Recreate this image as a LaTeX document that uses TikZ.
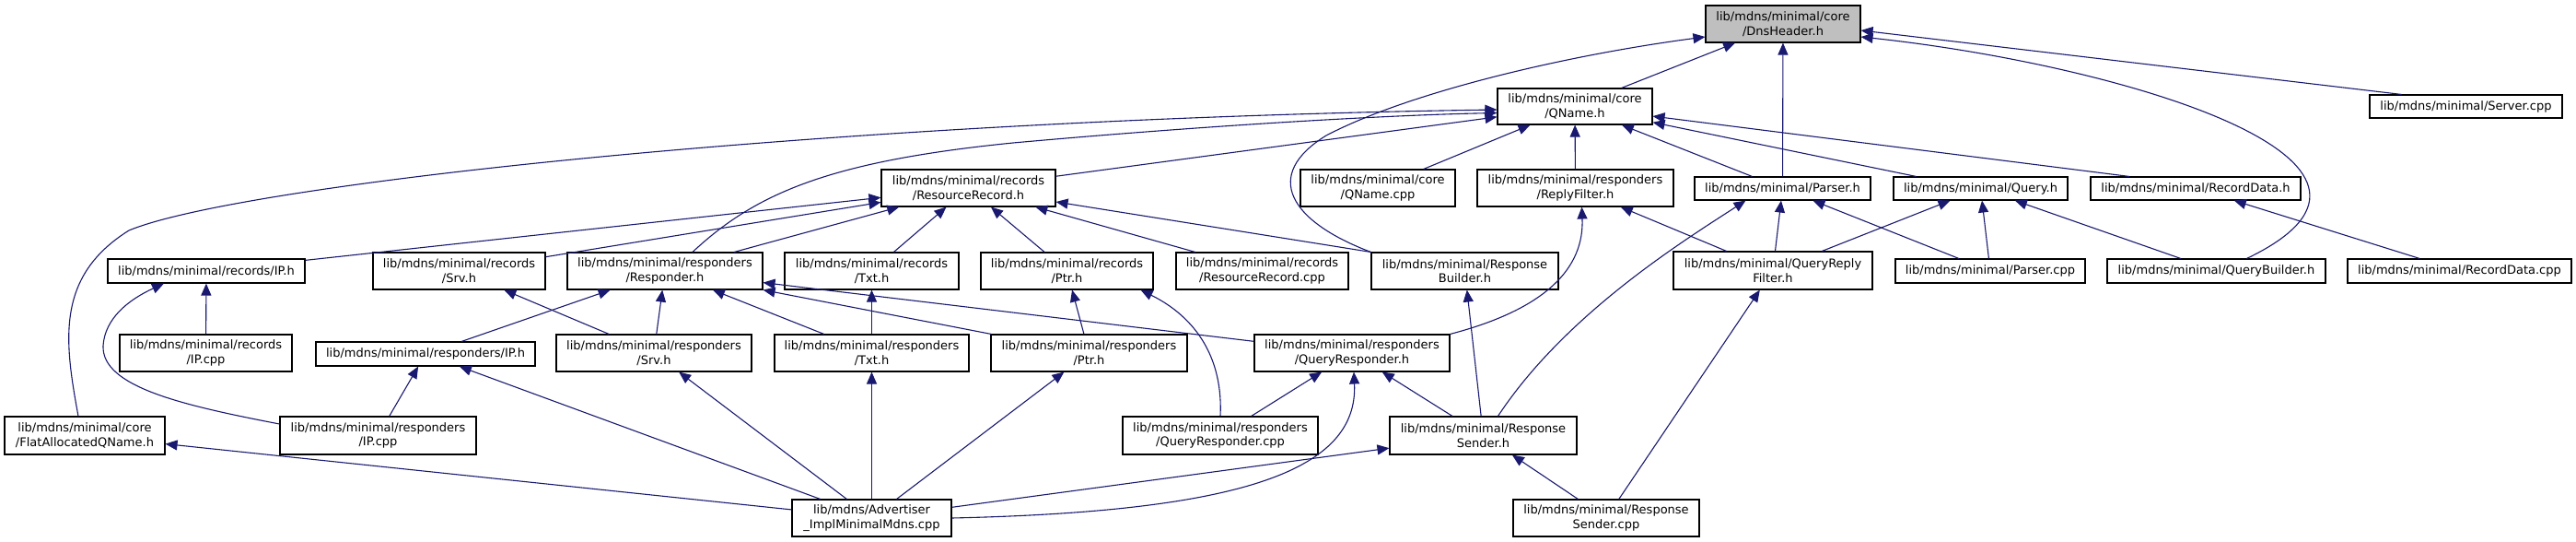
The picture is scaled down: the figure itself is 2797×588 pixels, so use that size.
\documentclass[tikz,border=0pt]{standalone}
\usepackage{fontspec}
\newfontfamily\dejavu{DejaVu Sans}
\usetikzlibrary{arrows.meta}
\definecolor{edgeblue}{HTML}{191970}
\definecolor{rootgray}{HTML}{BFBFBF}
\tikzset{
  box/.style={draw=black, line width=1.1pt, fill=white, inner sep=0pt, align=center,
    font=\dejavu\fontsize{13}{15.5}\selectfont},
  edge/.style={draw=edgeblue, line width=1.1pt, -{Triangle[length=13pt,width=11pt]}}
}
\newcommand{\bx}[6]{\node[box, minimum width=#4pt, minimum height=#5pt] (#1) at (#2,#3) {#6};}
\begin{document}
\begin{tikzpicture}[x=1pt,y=-1pt]
\useasboundingbox (0,0) rectangle (2797,588);
% nodes
\node[box, fill=rootgray, minimum width=168pt, minimum height=40pt] (dns) at (1936,26) {lib/mdns/minimal/core\\/DnsHeader.h};
\bx{qname}{1710}{115.5}{168}{39}{lib/mdns/minimal/core\\/QName.h}
\bx{server}{2677.5}{115.5}{209}{25}{lib/mdns/minimal/Server.cpp}
\bx{rr}{1051.5}{204}{189}{40}{lib/mdns/minimal/records\\/ResourceRecord.h}
\bx{qnamecpp}{1496}{204}{168}{40}{lib/mdns/minimal/core\\/QName.cpp}
\bx{replyfilter}{1710.5}{204}{213}{40}{lib/mdns/minimal/responders\\/ReplyFilter.h}
\bx{parserh}{1935.5}{204.5}{191}{25}{lib/mdns/minimal/Parser.h}
\bx{queryh}{2150.5}{204.5}{189}{25}{lib/mdns/minimal/Query.h}
\bx{recorddatah}{2384}{204.5}{228}{25}{lib/mdns/minimal/RecordData.h}
\bx{ipH}{224}{294}{214}{26}{lib/mdns/minimal/records/IP.h}
\bx{srvH}{498.5}{294}{187}{40}{lib/mdns/minimal/records\\/Srv.h}
\bx{responder}{722}{294}{212}{40}{lib/mdns/minimal/responders\\/Responder.h}
\bx{txtH}{946.5}{294}{189}{40}{lib/mdns/minimal/records\\/Txt.h}
\bx{ptrH}{1158.5}{294}{187}{40}{lib/mdns/minimal/records\\/Ptr.h}
\bx{rrcpp}{1370.5}{294}{187}{40}{lib/mdns/minimal/records\\/ResourceRecord.cpp}
\bx{respbuilder}{1590.5}{294}{203}{40}{lib/mdns/minimal/Response\\Builder.h}
\bx{qrfilter}{1925}{293.5}{216}{41}{lib/mdns/minimal/QueryReply\\Filter.h}
\bx{parsercpp}{2161}{294}{206}{26}{lib/mdns/minimal/Parser.cpp}
\bx{querybuilder}{2406.5}{294}{237}{26}{lib/mdns/minimal/QueryBuilder.h}
\bx{recorddatacpp}{2670.5}{294}{243}{26}{lib/mdns/minimal/RecordData.cpp}
\bx{ipcpp}{223.5}{383}{187}{40}{lib/mdns/minimal/records\\/IP.cpp}
\bx{rIP}{462}{384}{238}{26}{lib/mdns/minimal/responders/IP.h}
\bx{rSrv}{710}{383}{212}{40}{lib/mdns/minimal/responders\\/Srv.h}
\bx{rTxt}{946.5}{383}{211}{40}{lib/mdns/minimal/responders\\/Txt.h}
\bx{rPtr}{1182.5}{383}{213}{40}{lib/mdns/minimal/responders\\/Ptr.h}
\bx{qresp}{1468}{383}{212}{40}{lib/mdns/minimal/responders\\/QueryResponder.h}
\bx{flat}{92}{472.5}{174}{41}{lib/mdns/minimal/core\\/FlatAllocatedQName.h}
\bx{rIPcpp}{410.5}{472.5}{213}{41}{lib/mdns/minimal/responders\\/IP.cpp}
\bx{qrespcpp}{1325}{472.5}{212}{41}{lib/mdns/minimal/responders\\/QueryResponder.cpp}
\bx{respsender}{1610.5}{472.5}{203}{41}{lib/mdns/minimal/Response\\Sender.h}
\bx{advertiser}{946.5}{562}{173}{40}{lib/mdns/Advertiser\\\_ImplMinimalMdns.cpp}
\bx{respsendercpp}{1744}{562}{202}{40}{lib/mdns/minimal/Response\\Sender.cpp}
% edges into DnsHeader
\draw[edge] (qname) -- (dns);
\draw[edge] (parserh) -- (dns);
\draw[edge] ([xshift=-70pt]server.north) -- ([yshift=-7pt]dns.east);
\draw[edge] ([xshift=33pt]querybuilder.north) .. controls (2660,175) and (2300,70) .. ([yshift=-14pt]dns.east);
\draw[edge] (respbuilder.north west) .. controls (1400,240) and (1370,190) .. (1440,147)
  .. controls (1530,100) and (1700,60) .. ([yshift=-14pt]dns.west);
% edges into QName.h
\draw[edge] ([xshift=-7pt]flat.north) .. controls (70,370) and (60,300) .. (140,250)
  .. controls (260,200) and (900,130) .. ([yshift=-3.5pt]qname.west);
\draw[edge] ([xshift=30pt]responder.north) .. controls (820,210) and (900,175) .. (1100,155)
  .. controls (1300,137) and (1500,125) .. ([yshift=-7pt]qname.west);
\draw[edge] (rr) -- (qname);
\draw[edge] (qnamecpp) -- (qname);
\draw[edge] (replyfilter) -- (qname);
\draw[edge] (parserh) -- (qname);
\draw[edge] ([xshift=-70pt]queryh.north) -- (qname);
\draw[edge] ([xshift=-72pt]recorddatah.north) -- (qname);
% edges into ResourceRecord.h
\draw[edge] (ipH) -- (rr);
\draw[edge] (srvH) -- (rr);
\draw[edge] (responder) -- (rr);
\draw[edge] (txtH) -- (rr);
\draw[edge] (ptrH) -- (rr);
\draw[edge] (rrcpp) -- (rr);
\draw[edge] (respbuilder.north west) -- (rr);
% ReplyFilter.h
\draw[edge] (qrfilter) -- (replyfilter);
\draw[edge] (qresp.north east) .. controls (1680,335) and (1720,290) .. ([xshift=7pt]replyfilter.south);
% Parser.h
\draw[edge] (qrfilter) -- (parserh);
\draw[edge] (parsercpp) -- (parserh);
\draw[edge] ([xshift=16pt]respsender.north) .. controls (1700,340) and (1830,260) .. ([xshift=-40pt]parserh.south);
% Query.h
\draw[edge] (qrfilter) -- (queryh);
\draw[edge] (parsercpp) -- (queryh);
\draw[edge] (querybuilder) -- (queryh);
% RecordData.h
\draw[edge] (recorddatacpp) -- (recorddatah);
% records/IP.h
\draw[edge] (ipcpp) -- (ipH);
\draw[edge] ([yshift=12.5pt]rIPcpp.west) .. controls (200,440) and (110,420) .. (112,375)
  .. controls (114,345) and (140,325) .. ([xshift=-46pt]ipH.south);
% records/Srv.h, Txt.h, Ptr.h
\draw[edge] (rSrv) -- (srvH);
\draw[edge] (rTxt) -- (txtH);
\draw[edge] (rPtr) -- (ptrH);
\draw[edge] (qrespcpp.north) .. controls (1328,390) and (1300,345) .. ([xshift=80pt]ptrH.south);
% Responder.h
\draw[edge] (rIP) -- (responder);
\draw[edge] (rSrv) -- (responder);
\draw[edge] (rTxt) -- (responder);
\draw[edge] (rPtr) -- (responder);
\draw[edge] (qresp) -- (responder);
% responders/IP.h
\draw[edge] (rIPcpp) -- (rIP);
\draw[edge] (advertiser) -- (rIP);
% responders Srv, Txt, Ptr
\draw[edge] (advertiser) -- (rSrv);
\draw[edge] (advertiser) -- (rTxt);
\draw[edge] (advertiser) -- (rPtr);
% QueryResponder.h
\draw[edge] (qrespcpp) -- (qresp);
\draw[edge] (respsender) -- (qresp);
\draw[edge] (advertiser.east) .. controls (1350,555) and (1475,510) .. ([xshift=2pt]qresp.south);
% ResponseSender.h
\draw[edge] (advertiser) -- (respsender);
\draw[edge] (respsendercpp) -- (respsender);
% ResponseBuilder.h
\draw[edge] (respsender) -- (respbuilder);
% FlatAllocatedQName.h
\draw[edge] (advertiser) -- (flat);
% QueryReplyFilter.h
\draw[edge] (respsendercpp) -- (qrfilter);
\end{tikzpicture}
\end{document}
